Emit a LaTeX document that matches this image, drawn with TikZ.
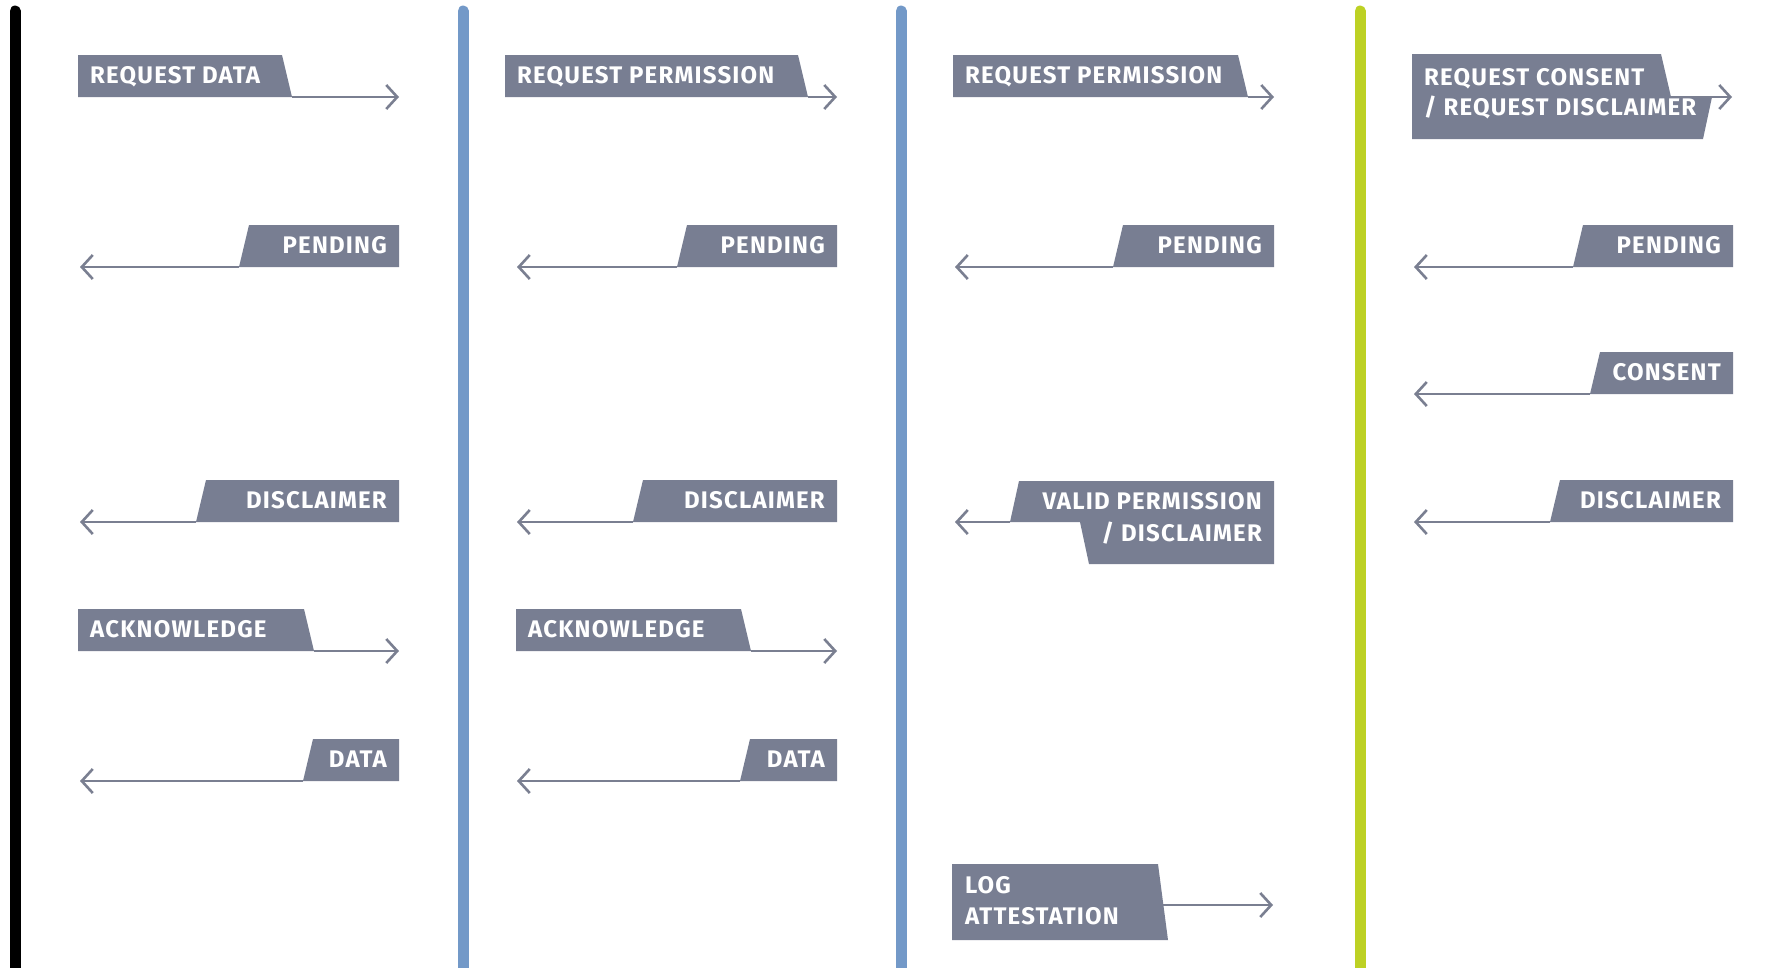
\documentclass[tikz,border=0pt]{standalone}
\usepackage{fontspec}
\setmainfont{Fira Sans}
\usetikzlibrary{arrows.meta}
\definecolor{tagfill}{RGB}{120,126,146}
\definecolor{arrowc}{RGB}{122,127,145}
\definecolor{lifeblue}{RGB}{115,153,200}
\definecolor{lifegreen}{RGB}{189,209,36}
\tikzset{
  life/.style={line width=11pt, line cap=round},
  tagshape/.style={fill=tagfill, draw=none},
  tagtext/.style={text=white, font=\fontsize{24}{29}\selectfont\bfseries\addfontfeatures{LetterSpace=5}, inner sep=0pt},
  msg/.style={draw=arrowc, line width=2pt, -{Straight Barb[length=11pt,width=24pt,line width=2.6pt]}},
}
% outgoing tag: name, L, Rtop, Y, tip, text
\newcommand{\outtag}[6]{%
  \fill[tagshape] (#2,#4-42) -- (#3,#4-42) -- (#3+10,#4) -- (#2,#4) -- cycle;
  \node[tagtext, anchor=base west] (#1) at (#2+12,#4-14) {#6};
  \coordinate (#1-s) at (#3+10,#4);
  \coordinate (#1-e) at (#5,#4);
  \draw[msg] (#1-s) -- (#1-e);
}
% incoming tag: name, Ltop, R, Y, tip, text
\newcommand{\intag}[6]{%
  \fill[tagshape] (#2,#4-42) -- (#3,#4-42) -- (#3,#4) -- (#2-10,#4) -- cycle;
  \node[tagtext, anchor=base east] (#1) at (#3-12,#4-14) {#6};
  \coordinate (#1-s) at (#2-10,#4);
  \coordinate (#1-e) at (#5,#4);
  \draw[msg] (#1-s) -- (#1-e);
}
\begin{document}
\begin{tikzpicture}[x=1pt,y=-1pt]
\clip (0,0) rectangle (1775,967);
\fill[white] (0,0) rectangle (1775,967);
% lifelines
\coordinate (l1t) at (15,11); \coordinate (l1b) at (15,990);
\coordinate (l2t) at (463,11); \coordinate (l2b) at (463,990);
\coordinate (l3t) at (901,11); \coordinate (l3b) at (901,990);
\coordinate (l4t) at (1360,11); \coordinate (l4b) at (1360,990);
\draw[life, black] (l1t) -- (l1b);
\draw[life, lifeblue] (l2t) -- (l2b);
\draw[life, lifeblue] (l3t) -- (l3b);
\draw[life, lifegreen] (l4t) -- (l4b);

% column 1
\outtag{c1a}{78}{282}{97}{399}{REQUEST DATA}
\intag{c1b}{249}{399}{267}{80}{PENDING}
\intag{c1c}{206}{399}{522}{80}{DISCLAIMER}
\outtag{c1d}{78}{304}{651}{399}{ACKNOWLEDGE}
\intag{c1e}{313}{399}{781}{80}{DATA}

% column 2
\outtag{c2a}{505}{798}{97}{837}{REQUEST PERMISSION}
\intag{c2b}{687}{837}{267}{517}{PENDING}
\intag{c2c}{643}{837}{522}{517}{DISCLAIMER}
\outtag{c2d}{516}{741}{651}{837}{ACKNOWLEDGE}
\intag{c2e}{750}{837}{781}{517}{DATA}

% column 3
\outtag{c3a}{953}{1238}{97}{1274}{REQUEST PERMISSION}
\intag{c3b}{1123}{1274}{267}{955}{PENDING}
% valid permission / disclaimer
\fill[tagshape] (1019,481) -- (1274,481) -- (1274,564) -- (1089,564) -- (1080,522) -- (1010,522) -- cycle;
\coordinate (c3c-s) at (1010,522); \coordinate (c3c-e) at (955,522);
\draw[msg] (c3c-s) -- (c3c-e);
\node[tagtext, anchor=base east] (c3c1) at (1262,509) {VALID PERMISSION};
\node[tagtext, anchor=base east] (c3c2) at (1262,541) {/ DISCLAIMER};
% log attestation
\fill[tagshape] (952,864) -- (1158,864) -- (1168,940) -- (952,940) -- cycle;
\coordinate (c3d-s) at (1163,905); \coordinate (c3d-e) at (1273,905);
\draw[msg] (c3d-s) -- (c3d-e);
\node[tagtext, anchor=base west] (c3d1) at (965,893) {LOG};
\node[tagtext, anchor=base west] (c3d2) at (965,924) {ATTESTATION};

% column 4
\fill[tagshape] (1412,54) -- (1661,54) -- (1671,97) -- (1712,97) -- (1703,139) -- (1412,139) -- cycle;
\coordinate (c4a-s) at (1671,97); \coordinate (c4a-e) at (1732,97);
\draw[msg] (c4a-s) -- (c4a-e);
\node[tagtext, anchor=base west] (c4a1) at (1424,85) {REQUEST CONSENT};
\node[tagtext, anchor=base west] (c4a2) at (1424,115) {/ REQUEST DISCLAIMER};
\intag{c4b}{1583}{1733}{267}{1414}{PENDING}
\intag{c4c}{1600}{1733}{394}{1414}{CONSENT}
\intag{c4d}{1560}{1733}{522}{1414}{DISCLAIMER}
\end{tikzpicture}
\end{document}
